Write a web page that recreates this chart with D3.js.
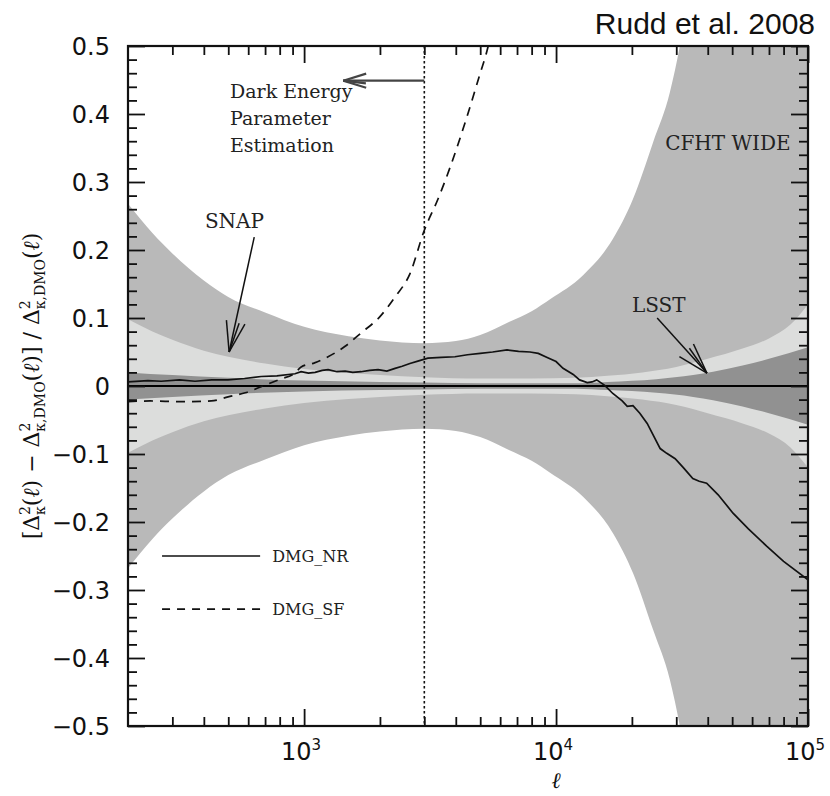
<!DOCTYPE html>
<html>
<head>
<meta charset="utf-8">
<script src="https://cdn.jsdelivr.net/npm/d3@7"></script>
<style>
  html, body { margin: 0; padding: 0; background: #fff; }
  svg { display: block; }
</style>
</head>
<body>
<svg id="chart" width="830" height="796"></svg>
<script>
// ---------------- data ----------------
// CFHT WIDE half-width (medium gray band)
const cfhtEll = [200, 250, 300, 400, 500, 700, 1000, 1500, 2000, 3000, 4000, 5000, 6500, 8000, 9500, 12800, 16800, 20200, 24300, 28300, 31000, 35000, 50000, 100000];
const cfhtVal = [0.268, 0.225, 0.195, 0.155, 0.131, 0.108, 0.087, 0.073, 0.067, 0.063, 0.066, 0.075, 0.094, 0.110, 0.128, 0.163, 0.216, 0.275, 0.359, 0.432, 0.500, 0.620, 1.200, 4.000];
// SNAP half-width (light gray band)
const snapEll = [200, 250, 300, 400, 500, 700, 1000, 1500, 2000, 3000, 5000, 8000, 12000, 16000, 22000, 30000, 40000, 55000, 70000, 85000, 100000];
const snapVal = [0.098, 0.080, 0.068, 0.052, 0.043, 0.033, 0.025, 0.019, 0.016, 0.013, 0.011, 0.011, 0.012, 0.015, 0.020, 0.028, 0.040, 0.055, 0.070, 0.090, 0.120];
// LSST half-width (dark gray band)
const lsstEll = [200, 300, 500, 1000, 2000, 3000, 5000, 8000, 12000, 16000, 25000, 35000, 42000, 55000, 70000, 100000];
const lsstVal = [0.020, 0.016, 0.012, 0.008, 0.006, 0.005, 0.004, 0.004, 0.004, 0.006, 0.010, 0.016, 0.021, 0.030, 0.040, 0.057];
// DMG_NR (solid curve)
const nrEll = [200, 240, 271, 320, 369, 430, 499, 580, 675, 780, 920, 973, 1040, 1106, 1180, 1245, 1350, 1455, 1560, 1683, 1820, 1966, 2130, 2297, 2450, 2630, 2850, 3100, 3500, 3970, 4450, 5000, 5600, 6390, 7100, 7880, 8500, 9220, 10000, 10660, 11700, 12400, 13300, 13900, 14500, 15600, 16800, 18300, 19170, 20200, 21500, 23000, 25900, 27500, 29700, 32000, 34900, 37000, 39600, 44000, 50400, 58000, 68700, 80000, 100000];
const nrVal = [0.006, 0.008, 0.007, 0.009, 0.007, 0.009, 0.009, 0.011, 0.014, 0.015, 0.018, 0.021, 0.019, 0.020, 0.023, 0.024, 0.021, 0.022, 0.020, 0.021, 0.023, 0.024, 0.022, 0.026, 0.029, 0.033, 0.037, 0.041, 0.042, 0.043, 0.046, 0.048, 0.050, 0.053, 0.051, 0.050, 0.048, 0.042, 0.036, 0.026, 0.017, 0.009, 0.005, 0.006, 0.009, 0.001, -0.011, -0.022, -0.030, -0.029, -0.040, -0.055, -0.092, -0.099, -0.107, -0.120, -0.136, -0.140, -0.143, -0.160, -0.187, -0.210, -0.236, -0.258, -0.285];
// DMG_SF (dashed curve)
const sfEll = [200, 245, 320, 428, 499, 584, 675, 803, 920, 973, 1100, 1245, 1450, 1683, 2000, 2297, 2630, 3000, 3400, 3800, 4430, 5000, 5330, 5600];
const sfVal = [-0.023, -0.022, -0.023, -0.022, -0.016, -0.010, -0.001, 0.010, 0.019, 0.028, 0.034, 0.043, 0.058, 0.078, 0.102, 0.131, 0.165, 0.229, 0.275, 0.322, 0.396, 0.460, 0.494, 0.530];

// axis ticks
const xMajorTicks = [1000, 10000, 100000];
const xMajorExp = ["3", "4", "5"];
const xMinorTicks = [300, 400, 500, 600, 700, 800, 900, 2000, 3000, 4000, 5000, 6000, 7000, 8000, 9000, 20000, 30000, 40000, 50000, 60000, 70000, 80000, 90000];
const yMajorTicks = [-0.5, -0.4, -0.3, -0.2, -0.1, 0, 0.1, 0.2, 0.3, 0.4, 0.5];
const yMinorTicks = d3.range(-50, 51, 2).filter(v => v % 10 !== 0).map(v => v / 100);

// annotations (data coordinates)
const vlineEll = 3000;
const deArrow = { from: [3000, 0.449], to: [1430, 0.449] };
const deText = { ell: 508, lines: ["Dark Energy", "Parameter", "Estimation"], vals: [0.4235, 0.384, 0.344] };
const snapLabel = { ell: 404, val: 0.232, text: "SNAP" };
const snapArrow = { from: [634, 0.219], to: [504, 0.050] };
const cfhtLabel = { ell: 27100, val: 0.347, text: "CFHT WIDE" };
const lsstLabel = { ell: 20000, val: 0.109, text: "LSST" };
const lsstArrow = { from: [25200, 0.100], to: [39700, 0.019] };
const legendItems = [
  { name: "DMG_NR", dash: null, x0: 273, x1: 669, tx: 747, val: -0.250 },
  { name: "DMG_SF", dash: "8,7", x0: 273, x1: 669, tx: 747, val: -0.328 }
];

// ---------------- drawing ----------------
const svg = d3.select("#chart");
const L = 128, R = 808, T = 46, B = 726;
const x = d3.scaleLog().domain([200, 100000]).range([L, R]);
const y = d3.scaleLinear().domain([-0.5, 0.5]).range([B, T]);

svg.append("defs").append("clipPath").attr("id", "clip")
  .append("rect").attr("x", L).attr("y", T).attr("width", R - L).attr("height", B - T);

const plot = svg.append("g").attr("clip-path", "url(#clip)");

function band(ells, vals, color) {
  const pts = ells.map((e, i) => ({ e, v: vals[i] }));
  const area = d3.area()
    .x(d => x(d.e))
    .y0(d => y(-d.v))
    .y1(d => y(d.v))
    .curve(d3.curveMonotoneX);
  plot.append("path").datum(pts).attr("d", area).attr("fill", color);
}
band(cfhtEll, cfhtVal, "#b9b9b9");
band(snapEll, snapVal, "#dcdddc");
band(lsstEll, lsstVal, "#919191");

// zero line
plot.append("line").attr("x1", L).attr("x2", R).attr("y1", y(0)).attr("y2", y(0))
  .attr("stroke", "#000").attr("stroke-width", 2);

// vertical dotted line
plot.append("line").attr("x1", x(vlineEll)).attr("x2", x(vlineEll)).attr("y1", T).attr("y2", B)
  .attr("stroke", "#111").attr("stroke-width", 1.6).attr("stroke-dasharray", "2.5,2.5");

// curves
const lineGen = d3.line().x(d => x(d.e)).y(d => y(d.v)).curve(d3.curveLinear);
plot.append("path").datum(nrEll.map((e, i) => ({ e, v: nrVal[i] })))
  .attr("d", lineGen).attr("fill", "none").attr("stroke", "#111").attr("stroke-width", 1.7);
plot.append("path").datum(sfEll.map((e, i) => ({ e, v: sfVal[i] })))
  .attr("d", d3.line().x(d => x(d.e)).y(d => y(d.v)).curve(d3.curveMonotoneX))
  .attr("fill", "none").attr("stroke", "#111").attr("stroke-width", 1.7).attr("stroke-dasharray", "9,7");

// arrows
function arrow(a, color, width, head) {
  const x1 = x(a.from[0]), y1 = y(a.from[1]), x2 = x(a.to[0]), y2 = y(a.to[1]);
  const g = svg.append("g").attr("stroke", color).attr("stroke-width", width).attr("fill", "none");
  g.append("line").attr("x1", x1).attr("y1", y1).attr("x2", x2).attr("y2", y2);
  const ang = Math.atan2(y1 - y2, x1 - x2);
  const th = 0.3;
  [ang + th, ang - th].forEach(a2 => {
    g.append("line").attr("x1", x2).attr("y1", y2)
      .attr("x2", x2 + head * Math.cos(a2)).attr("y2", y2 + head * Math.sin(a2));
  });
  g.append("line").attr("x1", x2).attr("y1", y2)
    .attr("x2", x2 + head * 0.95 * Math.cos(ang + 0.12)).attr("y2", y2 + head * 0.95 * Math.sin(ang + 0.12));
}
arrow(deArrow, "#444", 2.2, 24);
arrow(snapArrow, "#111", 1.5, 32);
arrow(lsstArrow, "#111", 1.5, 32);

// frame and ticks
const axG = svg.append("g");
function addAxis(axisFn, scale, vals, size, transform) {
  axG.append("g").attr("transform", transform)
    .call(axisFn(scale).tickValues(vals).tickSize(size).tickFormat(""))
    .call(g => g.select(".domain").remove())
    .call(g => g.selectAll("line").attr("stroke", "#111").attr("stroke-width", 1.8));
}
// bottom & top
addAxis(d3.axisBottom, x, xMajorTicks, -17, `translate(0,${B})`);
addAxis(d3.axisBottom, x, xMinorTicks, -9, `translate(0,${B})`);
addAxis(d3.axisTop, x, xMajorTicks, -17, `translate(0,${T})`);
addAxis(d3.axisTop, x, xMinorTicks, -9, `translate(0,${T})`);
// left & right
addAxis(d3.axisLeft, y, yMajorTicks, -17, `translate(${L},0)`);
addAxis(d3.axisLeft, y, yMinorTicks, -9, `translate(${L},0)`);
addAxis(d3.axisRight, y, yMajorTicks, -17, `translate(${R},0)`);
addAxis(d3.axisRight, y, yMinorTicks, -9, `translate(${R},0)`);

svg.append("rect").attr("x", L).attr("y", T).attr("width", R - L).attr("height", B - T)
  .attr("fill", "none").attr("stroke", "#111").attr("stroke-width", 2.2);

// y tick labels
const yLab = svg.append("g").attr("font-family", "DejaVu Sans, sans-serif").attr("font-size", 24).attr("fill", "#111");
yLab.selectAll("text").data(yMajorTicks).join("text")
  .attr("x", L - 18).attr("y", d => y(d)).attr("dy", "0.36em").attr("text-anchor", "end")
  .text(d => d === 0 ? "0" : d3.format(".1f")(d));

// x tick labels
const xLab = svg.append("g").attr("font-family", "DejaVu Sans, sans-serif").attr("fill", "#111");
xMajorTicks.forEach((t, i) => {
  const tx = xLab.append("text").attr("x", x(t) - 3).attr("y", 760).attr("text-anchor", "middle").attr("font-size", 24);
  tx.append("tspan").text("10");
  tx.append("tspan").attr("font-size", 15).attr("dy", -10).text(xMajorExp[i]);
});

// x axis label
svg.append("text").attr("x", x(10000)).attr("y", 788).attr("text-anchor", "middle")
  .attr("font-family", "DejaVu Serif, serif").attr("font-style", "italic").attr("font-size", 22).attr("fill", "#111")
  .text("ℓ");

// y axis label
const yl = svg.append("text")
  .attr("transform", `translate(39,${(T + B) / 2}) rotate(-90)`)
  .attr("text-anchor", "middle")
  .attr("font-family", "DejaVu Serif, serif").attr("font-size", 22).attr("fill", "#111");
const parts = [
  ["[Δ", "n"], ["2", "sup"], ["κ", "sub"], ["(", "n"], ["ℓ", "i"], [") − Δ", "n"], ["2", "sup"], ["κ,DMO", "sub"],
  ["(", "n"], ["ℓ", "i"], [")] / Δ", "n"], ["2", "sup"], ["κ,DMO", "sub"], ["(", "n"], ["ℓ", "i"], [")", "n"]
];
let off = 0;
parts.forEach(([t, k], i) => {
  const ts = yl.append("tspan").text(t);
  if (k === "sup") { ts.attr("font-size", 14).attr("dy", -9 - off); off = -9; }
  else if (k === "sub") { ts.attr("font-size", 14).attr("dx", -9).attr("dy", 6 - off); off = 6; }
  else { ts.attr("dy", -off); off = 0; if (k === "i") ts.attr("font-style", "italic"); }
});

// annotations text
const ann = svg.append("g").attr("font-family", "DejaVu Serif, serif").attr("fill", "#222");
deText.lines.forEach((s, i) => {
  ann.append("text").attr("x", x(deText.ell)).attr("y", y(deText.vals[i])).attr("font-size", 19).text(s);
});
[snapLabel, cfhtLabel, lsstLabel].forEach(l => {
  ann.append("text").attr("x", x(l.ell)).attr("y", y(l.val)).attr("font-size", 20).text(l.text);
});

// legend
legendItems.forEach(it => {
  const ln = svg.append("line").attr("x1", x(it.x0)).attr("x2", x(it.x1)).attr("y1", y(it.val)).attr("y2", y(it.val))
    .attr("stroke", "#111").attr("stroke-width", 1.7);
  if (it.dash) ln.attr("stroke-dasharray", it.dash);
  svg.append("text").attr("x", x(it.tx)).attr("y", y(it.val) + 6).attr("font-family", "DejaVu Serif, serif")
    .attr("font-size", 16).attr("fill", "#222").text(it.name);
});

// citation
svg.append("text").attr("x", 815).attr("y", 34).attr("text-anchor", "end")
  .attr("font-family", "Liberation Sans, Arial, sans-serif").attr("font-size", 30).attr("fill", "#111")
  .text("Rudd et al. 2008");
</script>
</body>
</html>
